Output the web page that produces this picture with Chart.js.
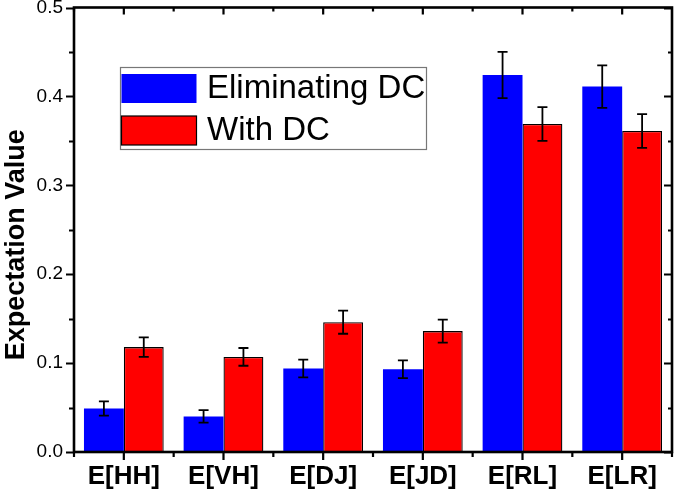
<!DOCTYPE html>
<html>
<head>
<meta charset="utf-8">
<script src="https://cdn.jsdelivr.net/npm/chart.js@4.4.1/dist/chart.umd.min.js"></script>
<style>
  body { margin: 0; background: #fff; }
  #wrap { width: 675px; height: 492px; }
</style>
</head>
<body>
<div id="wrap"><canvas id="myChart" width="675" height="492"></canvas></div>
<script>
const categories = ['E[HH]', 'E[VH]', 'E[DJ]', 'E[JD]', 'E[RL]', 'E[LR]'];
const elimValues = [0.049, 0.040, 0.094, 0.093, 0.424, 0.411];
const elimErrors = [0.008, 0.007, 0.010, 0.010, 0.026, 0.024];
const dcValues = [0.118, 0.107, 0.146, 0.136, 0.369, 0.361];
const dcErrors = [0.011, 0.010, 0.013, 0.013, 0.019, 0.019];
const yTicks = [0, 0.1, 0.2, 0.3, 0.4, 0.5];

const FONT = '"Liberation Sans", Arial, sans-serif';

// error bars, axis frame, minor ticks and the boxed legend
const decorations = {
    id: 'decorations',
    afterDatasetsDraw(chart) {
        const c = chart.ctx;
        const x = chart.scales.x;
        const y = chart.scales.y;
        const area = chart.chartArea;

        c.save();
        c.strokeStyle = '#000';
        c.lineWidth = 1.8;
        chart.data.datasets.forEach((ds, di) => {
            const meta = chart.getDatasetMeta(di);
            meta.data.forEach((bar, i) => {
                const v = ds.data[i];
                const e = ds.errors[i];
                const top = y.getPixelForValue(v + e);
                const bot = y.getPixelForValue(v - e);
                const cx = bar.x;
                c.beginPath();
                c.moveTo(cx, top); c.lineTo(cx, bot);
                c.moveTo(cx - 5, top); c.lineTo(cx + 5, top);
                c.moveTo(cx - 5, bot); c.lineTo(cx + 5, bot);
                c.stroke();
            });
        });

        // frame
        c.lineWidth = 2.6;
        c.strokeRect(area.left, area.top, area.right - area.left, area.bottom - area.top);

        // y ticks: left outward, right inward
        c.lineWidth = 2.2;
        for (let k = 0; k <= 10; k++) {
            const v = k * 0.05;
            const py = Math.round(y.getPixelForValue(v)) + 0.5;
            const major = k % 2 === 0;
            const len = major ? 8 : 5;
            c.beginPath();
            c.moveTo(area.left - len, py); c.lineTo(area.left, py);
            c.moveTo(area.right, py); c.lineTo(area.right - (major ? 8 : 4), py);
            c.stroke();
        }

        // x ticks: bottom outward, top inward
        const step = (x.getPixelForTick(1) - x.getPixelForTick(0));
        for (let i = 0; i < categories.length; i++) {
            const cx = x.getPixelForTick(i);
            const bx = cx - step / 2;
            c.beginPath();
            c.moveTo(cx, area.bottom); c.lineTo(cx, area.bottom + 8);
            c.moveTo(cx, area.top); c.lineTo(cx, area.top + 7);
            c.moveTo(bx, area.bottom); c.lineTo(bx, area.bottom + 5);
            c.moveTo(bx, area.top); c.lineTo(bx, area.top + 4);
            c.stroke();
        }
        const ex = x.getPixelForTick(categories.length - 1) + step / 2;
        c.beginPath();
        c.moveTo(ex, area.bottom); c.lineTo(ex, area.bottom + 5);
        c.stroke();

        // legend
        const lx = 120, ly = 67, lw = 306, lh = 82;
        c.fillStyle = '#fff';
        c.fillRect(lx, ly, lw, lh);
        c.strokeStyle = '#777';
        c.lineWidth = 1.2;
        c.strokeRect(lx + 0.5, ly + 0.5, lw, lh);
        c.font = '33px ' + FONT;
        c.textBaseline = 'middle';
        chart.data.datasets.forEach((ds, di) => {
            const sy = ly + 7 + di * 42;
            c.fillStyle = ds.backgroundColor;
            c.fillRect(lx + 1.5, sy, 75, 29);
            if (di === 1) {
                c.strokeStyle = '#000';
                c.lineWidth = 1.2;
                c.strokeRect(lx + 1.5, sy, 75, 29);
            }
            c.fillStyle = '#000';
            c.fillText(ds.label, lx + 87, sy + 15);
        });
        c.restore();
    }
};

const ctx = document.getElementById('myChart').getContext('2d');
const chart = new Chart(ctx, {
    type: 'bar',
    data: {
        labels: categories,
        datasets: [
            {
                label: 'Eliminating DC',
                data: elimValues,
                errors: elimErrors,
                backgroundColor: '#0000ff',
                borderColor: '#3333ff',
                borderWidth: 0
            },
            {
                label: 'With DC',
                data: dcValues,
                errors: dcErrors,
                backgroundColor: '#ff0000',
                borderColor: '#000',
                borderWidth: 1.3
            }
        ]
    },
    options: {
        responsive: false,
        animation: false,
        events: [],
        layout: { padding: { top: 7.5, right: 3, left: 0, bottom: 0 } },
        plugins: {
            legend: { display: false },
            tooltip: { enabled: false }
        },
        datasets: {
            bar: { barPercentage: 1.0, categoryPercentage: 0.8 }
        },
        scales: {
            x: {
                grid: { display: false, drawTicks: false },
                border: { display: false },
                ticks: {
                    color: '#000',
                    padding: 9,
                    maxRotation: 0,
                    autoSkip: false,
                    font: { family: FONT, size: 26, weight: 'bold' }
                },
                afterFit: (s) => { s.height = 40; s.paddingLeft = 0; s.paddingRight = 0; }
            },
            y: {
                min: 0,
                max: 0.5,
                afterBuildTicks: (s) => { s.ticks = yTicks.map(v => ({ value: v })); },
                grid: { display: false, drawTicks: false },
                border: { display: false },
                ticks: {
                    color: '#000',
                    padding: 11,
                    font: { family: FONT, size: 19 },
                    callback: (v) => v.toFixed(1)
                },
                title: {
                    display: true,
                    // trailing spaces nudge the rotated title down a bit, as in the original
                    text: 'Expectation Value\u00a0\u00a0\u00a0\u00a0',
                    color: '#000',
                    padding: 0,
                    font: { family: FONT, size: 27, weight: 'bold' }
                },
                afterFit: (s) => { s.width = 74; s.paddingTop = 0; s.paddingBottom = 0; }
            }
        }
    },
    plugins: [decorations]
});
</script>
</body>
</html>
